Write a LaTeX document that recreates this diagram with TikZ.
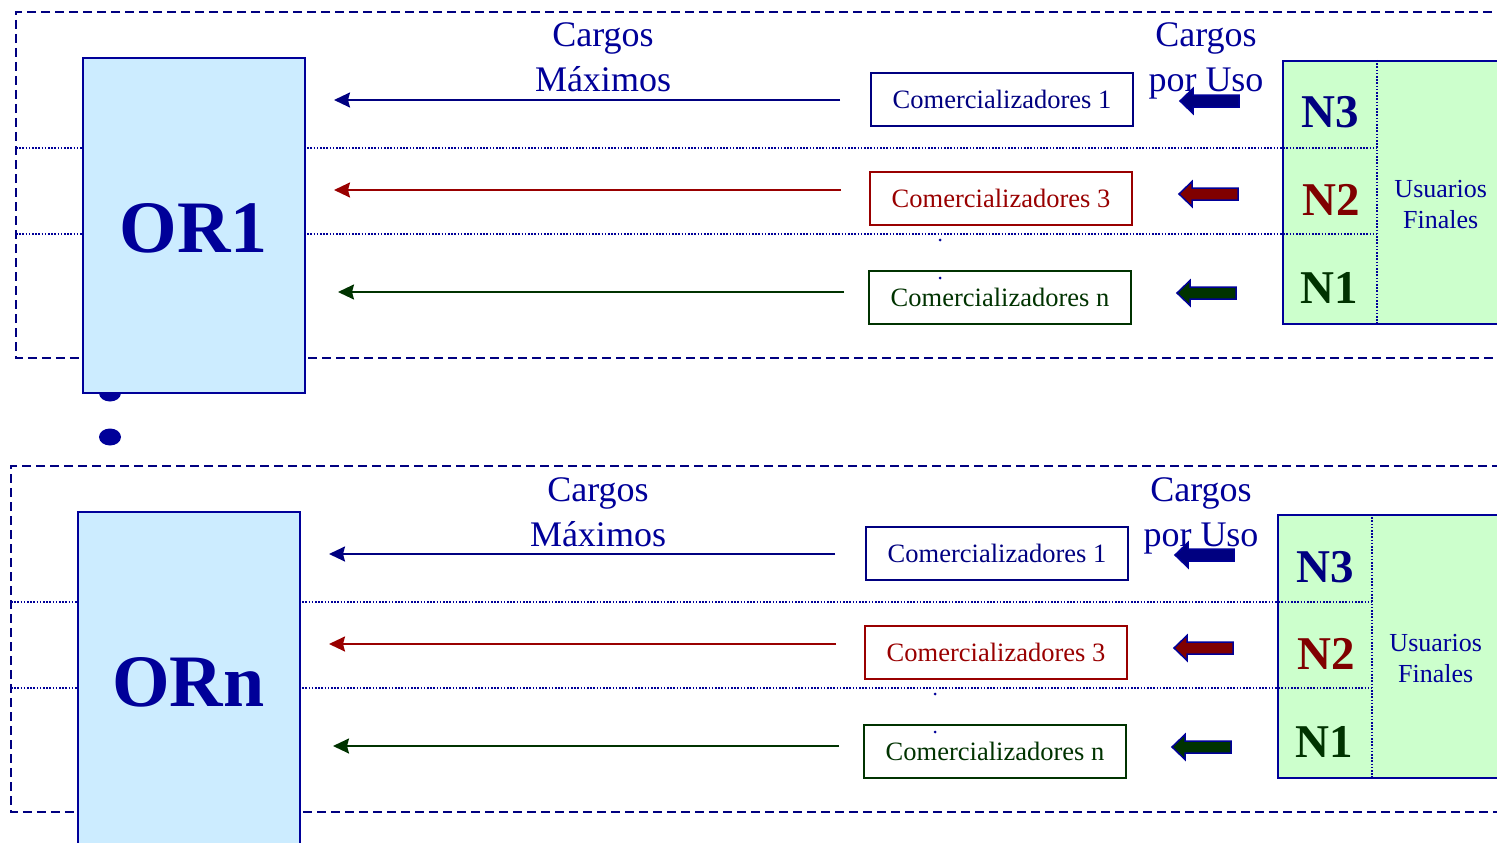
\documentclass[tikz,border=0pt]{standalone}
\usepackage{fontspec}
\setmainfont{Liberation Serif}
\usetikzlibrary{arrows.meta,shapes.geometric}
\definecolor{dblue}{HTML}{000099}
\definecolor{navy}{HTML}{000080}
\definecolor{dred}{HTML}{990000}
\definecolor{bred}{HTML}{800000}
\definecolor{dgreen}{HTML}{003300}
\definecolor{lblue}{HTML}{CCECFF}
\definecolor{lgreen}{HTML}{CCFFCC}
\tikzset{
  frame/.style={draw=navy, line width=1.5, dash pattern=on 9 off 5},
  sepline/.style={draw=dblue, line width=1.8, dash pattern=on 1.6 off 1.6},
  orbox/.style={draw=dblue, fill=lblue, line width=2, minimum width=222, minimum height=335, inner sep=0},
  ortext/.style={text=dblue, font=\fontsize{74}{80}\selectfont\bfseries, inner sep=0, anchor=base},
  nbox/.style={draw=dblue, fill=lgreen, line width=2, minimum width=240, minimum height=263, inner sep=0, anchor=north west},
  ntext/.style={text=#1, font=\fontsize{47}{50}\selectfont\bfseries, inner sep=0, anchor=base},
  utext/.style={text=dblue, font=\fontsize{26}{30}\selectfont, inner sep=0, anchor=base},
  ctext/.style={text=dblue, font=\fontsize{36}{40}\selectfont, inner sep=0, anchor=base},
  combox/.style={draw=#1, text=#1, line width=1.8, fill=white, minimum width=262, minimum height=53, inner sep=0, font=\fontsize{26.5}{30}\selectfont},
  flow/.style={draw=#1, line width=2, -{Stealth[length=16, width=15, inset=2]}},
  blockarr/.style={draw=dblue, fill=#1, line width=1.5, line join=miter},
  smalldot/.style={circle, fill=dblue, minimum size=3, inner sep=0},
  bigdot/.style={ellipse, fill=dblue, minimum width=22, minimum height=17, inner sep=0},
}
% block arrow pointing left: name, fill colour, tip coordinate
\newcommand{\blkarrow}[3]{%
  \coordinate (#1) at #3;
  \filldraw[blockarr=#2] (#1) -- ++(13,-12.5) -- ++(0,6.5) -- ++(46,0) -- ++(0,12) -- ++(-46,0) -- ++(0,6.5) -- cycle;
}
\newcommand{\orpanel}[2]{%
  % dashed frame
  \draw[frame] (1520,12) -- (16,12) -- (16,358) -- (1520,358);
  % users box
  \node[nbox] (#1nb) at (1282,60) {};
  % separators
  \coordinate (#1sa) at (16,148);
  \coordinate (#1sb) at (16,234);
  \draw[sepline] (#1sa) -- (1377,148);
  \draw[sepline] (#1sb) -- (1377,234);
  \draw[sepline] (1377,60) -- (1377,323);
  % OR box
  \node[orbox] (#1or) at (194,225.5) {};
  \node[ortext] (#1ort) at (193.5,252) {#2};
  % level labels
  \node[ntext=navy] (#1n3) at (1330.5,128) {N3};
  \node[ntext=bred] (#1n2) at (1331,215) {N2};
  \node[ntext=dgreen] (#1n1) at (1329.5,303) {N1};
  \node[utext] (#1u1) at (1440.7,197) {Usuarios};
  \node[utext] (#1u2) at (1440.7,228) {Finales};
  % headers
  \node[ctext] (#1cm1) at (603,47) {Cargos};
  \node[ctext] (#1cm2) at (603,92) {Máximos};
  \node[ctext] (#1cu1) at (1206,47) {Cargos};
  \node[ctext] (#1cu2) at (1206,92) {por Uso};
  % comercializadores
  \node[combox=navy] (#1c1) at (1002,99.5) {Comercializadores 1};
  \node[combox=dred] (#1c3) at (1001,198.5) {Comercializadores 3};
  \node[combox=dgreen] (#1cn) at (1000,297.5) {Comercializadores n};
  \node[smalldot] (#1d1) at (940,240) {};
  \node[smalldot] (#1d2) at (940,278) {};
  % flows
  \coordinate (#1f1) at (840,100);
  \coordinate (#1f3) at (841,190);
  \coordinate (#1fn) at (844,292);
  \draw[flow=navy, shorten >=28] (#1f1) -- (#1f1 -| #1or.east);
  \draw[flow=dred, shorten >=28] (#1f3) -- (#1f3 -| #1or.east);
  \draw[flow=dgreen, shorten >=32] (#1fn) -- (#1fn -| #1or.east);
  % block arrows
  \blkarrow{#1b1}{navy}{(1180,101)}
  \blkarrow{#1b3}{bred}{(1179,194)}
  \blkarrow{#1bn}{dgreen}{(1177,293)}
}
\begin{document}
\begin{tikzpicture}[x=1pt, y=-1pt]
  \useasboundingbox (0,0) rectangle (1497,843);
  \fill[white] (0,0) rectangle (1497,843);
  \node[bigdot] (dot1) at (110,393) {};
  \node[bigdot] (dot2) at (110,437) {};
  \begin{scope}
    \orpanel{a}{OR1}
  \end{scope}
  \begin{scope}[shift={(-5,454)}]
    \orpanel{b}{ORn}
  \end{scope}
\end{tikzpicture}
\end{document}
